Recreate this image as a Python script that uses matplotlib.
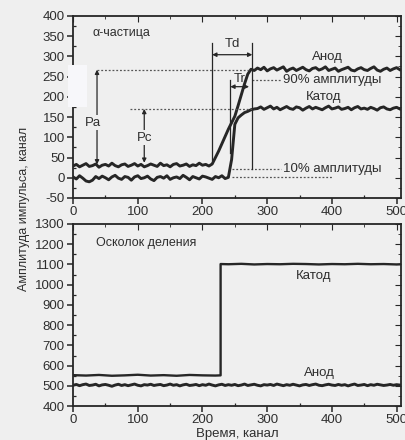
import numpy as np
import matplotlib
matplotlib.use("Agg")
import matplotlib.pyplot as plt
from matplotlib.patches import Rectangle

plt.rcParams['font.family'] = ['Liberation Sans', 'DejaVu Sans']
plt.rcParams['font.size'] = 9
plt.rcParams['axes.unicode_minus'] = False

# --- top panel: alpha particle, sampled every 5 channels
alpha_anode = [29, 33, 27, 31, 35, 28, 30, 34, 26, 31, 33, 29, 36, 30, 27, 32, 34, 28, 31, 35,
               29, 33, 27, 30, 34, 31, 28, 36, 30, 32, 27, 33, 35, 29, 31, 34, 28, 32, 30, 36,
               31, 33, 29,
               34, 50, 66, 84, 102, 120, 136, 152, 178, 205, 232, 256, 268,
               265, 271, 267, 273, 264, 269, 272, 266, 270, 274, 263, 268, 271, 265, 269, 273,
               267, 264, 270, 272, 266, 269, 274, 265, 268, 271, 263, 267, 270, 273, 266, 264,
               269, 272, 267, 265, 270, 274, 266, 263, 268, 271, 265, 269, 272, 267]
alpha_cathode = [2, -3, 5, -1, -8, -10, -6, 3, -2, 4, 0, -5, 2, 6, -1, -4, 3, 1, -6, 2,
                 5, -2, 0, 4, -3, -7, 1, 3, -1, 5, -4, 0, 2, -2, 6, 1, -5, 3, 0, -3,
                 4, 2, -1, -4, 3, 0, 5, -2, 1,
                 45, 132, 148, 155, 161, 164, 168, 170,
                 171, 175, 169, 173, 177, 170, 174, 168, 172, 176, 171, 169, 175, 173, 167, 172,
                 176, 170, 174, 171, 168, 173, 177, 170, 172, 175, 169, 171, 174, 168, 173, 176,
                 170, 172, 169, 174, 171, 167, 173, 175, 170, 168, 172, 174, 170]

# --- bottom panel: fission fragment
frag_anode = [503, 507, 501, 506, 509, 502, 504, 508, 500, 505, 507, 503, 498, 504, 508, 502, 506,
              501, 505, 509, 503, 500, 506, 504, 508, 502, 505, 507, 501, 504, 509, 503, 506, 500,
              505, 508, 502, 504, 507, 501, 506, 503, 509, 504, 500, 505, 508, 502, 506, 503,
              507, 501, 504, 509, 502, 505, 508, 503, 500, 506, 504, 507, 502, 509, 505, 501, 506,
              503, 508, 504, 500, 505, 507, 502, 506, 509, 503, 501, 505, 508, 504, 502, 507, 503,
              506, 500, 505, 509, 502, 504, 507, 501, 506, 503, 508, 505, 502, 504, 507, 503, 506, 504]
frag_cat_ch = [0, 20, 40, 60, 80, 100, 120, 140, 160, 180, 200, 220, 228,
               228, 240, 260, 280, 300, 320, 340, 360, 380, 400, 420, 440, 460, 480, 500, 507]
frag_cathode = [553, 551, 554, 550, 552, 555, 551, 553, 550, 554, 552, 551, 552,
                1102, 1101, 1103, 1100, 1102, 1101, 1103, 1102, 1100, 1102, 1101, 1103, 1101, 1102, 1100, 1101]

STEP = 5
BG = '#efefef'
INK = '#262626'
TXT = '#2e2e2e'

fig = plt.figure(figsize=(4.06, 4.40), dpi=100, facecolor=BG)
ax1 = fig.add_axes([0.180, 0.550, 0.808, 0.414], facecolor=BG)
ax2 = fig.add_axes([0.180, 0.077, 0.808, 0.414], facecolor=BG)


def style(ax, ylo, yhi, ymaj, ymin):
    ax.set_xlim(0, 507)
    ax.set_ylim(ylo, yhi)
    ax.set_xticks(np.arange(0, 501, 100))
    ax.set_xticks(np.arange(0, 501, 50), minor=True)
    ax.set_yticks(np.arange(ylo, yhi + 1, ymaj))
    ax.set_yticks(np.arange(ylo, yhi + 1, ymin), minor=True)
    ax.tick_params(which='major', direction='out', length=4, width=1.1, colors=INK,
                   labelcolor=TXT, labelsize=9.5, pad=2)
    ax.tick_params(which='minor', direction='in', length=2.5, width=0.9, colors=INK)
    for s in ax.spines.values():
        s.set_linewidth(1.3)
        s.set_color(INK)
    # mirrored ticks pointing inward on top / right
    top = ax.secondary_xaxis('top')
    top.set_xticks(np.arange(0, 501, 100))
    top.set_xticks(np.arange(0, 501, 50), minor=True)
    top.tick_params(which='both', direction='in', labeltop=False, colors=INK)
    top.tick_params(which='major', length=4)
    top.tick_params(which='minor', length=2.5)
    right = ax.secondary_yaxis('right')
    right.set_yticks(np.arange(ylo, yhi + 1, ymaj))
    right.set_yticks(np.arange(ylo, yhi + 1, ymin), minor=True)
    right.tick_params(which='both', direction='in', labelright=False, colors=INK)
    right.tick_params(which='major', length=4)
    right.tick_params(which='minor', length=2.5)
    top.spines['top'].set_visible(False)
    right.spines['right'].set_visible(False)


# top panel
ch_a = np.arange(len(alpha_anode)) * STEP
ch_c = np.arange(len(alpha_cathode)) * STEP
ax1.plot(ch_a, alpha_anode, color=INK, lw=2.1)
ax1.plot(ch_c, alpha_cathode, color=INK, lw=2.1)
style(ax1, -50, 400, 50, 25)

dot = dict(color='#555555', lw=0.9, ls=(0, (1.5, 1.5)))
thin = dict(color=INK, lw=0.9)
ax1.plot([37, 275], [267, 267], **dot)
ax1.plot([88, 280], [170, 170], **dot)
ax1.plot([276, 322], [242, 242], **dot)
ax1.plot([246, 322], [22, 22], **dot)
ax1.plot([246, 402], [2, 2], **dot)

arr = dict(arrowstyle='<|-|>', color=INK, lw=0.9, mutation_scale=6, shrinkA=0, shrinkB=0)
ax1.annotate('', xy=(37, 267), xytext=(37, 33), arrowprops=arr)
ax1.annotate('', xy=(110, 170), xytext=(110, 37), arrowprops=arr)
ax1.annotate('', xy=(215, 304), xytext=(277, 304), arrowprops=arr)
ax1.annotate('', xy=(243, 225), xytext=(272, 225), arrowprops=arr)
ax1.plot([215, 215], [44, 333], **thin)
ax1.plot([277, 277], [22, 333], **thin)
ax1.plot([243, 243], [60, 242], **thin)

lbl_box = dict(facecolor=BG, edgecolor='none', pad=1)
ax1.text(31, 136, 'Pa', ha='center', va='center', color=TXT, fontsize=9.5, bbox=lbl_box)
ax1.text(110, 99, 'Pc', ha='center', va='center', color=TXT, fontsize=9.5, bbox=lbl_box)
ax1.text(247, 330, 'Td', ha='center', va='center', color=TXT, fontsize=9.5)
ax1.text(258, 244, 'Tr', ha='center', va='center', color=TXT, fontsize=9.5)
ax1.text(30, 358, 'α-частица', ha='left', va='center', color=TXT, fontsize=9)
ax1.text(393, 299, 'Анод', ha='center', va='center', color=TXT, fontsize=9.5)
ax1.text(387, 200, 'Катод', ha='center', va='center', color=TXT, fontsize=9.5)
ax1.text(324, 242, '90% амплитуды', ha='left', va='center', color=TXT, fontsize=9.5)
ax1.text(324, 22, '10% амплитуды', ha='left', va='center', color=TXT, fontsize=9.5)

# bottom panel
ch_f = np.arange(len(frag_anode)) * STEP
ax2.plot(ch_f, frag_anode, color=INK, lw=2.1)
ax2.plot(frag_cat_ch, frag_cathode, color=INK, lw=1.7)
style(ax2, 400, 1300, 100, 50)
ax2.text(35, 1206, 'Осколок деления', ha='left', va='center', color=TXT, fontsize=9)
ax2.text(371, 1043, 'Катод', ha='center', va='center', color=TXT, fontsize=9.5)
ax2.text(380, 563, 'Анод', ha='center', va='center', color=TXT, fontsize=9.5)
ax2.set_xlabel('Время, канал', color=TXT, fontsize=9.5, labelpad=1)

fig.text(0.060, 0.525, 'Амплитуда импульса, канал', rotation=90, ha='center', va='center',
         color=TXT, fontsize=9)

# scan artefact: pale patch over the 250/200 labels
fig.patches.append(Rectangle((0.167, 0.757), 0.047, 0.095, transform=fig.transFigure,
                             facecolor='#f7f7fa', edgecolor='none', zorder=5))

fig.savefig('out.png', dpi=100, facecolor=BG)
